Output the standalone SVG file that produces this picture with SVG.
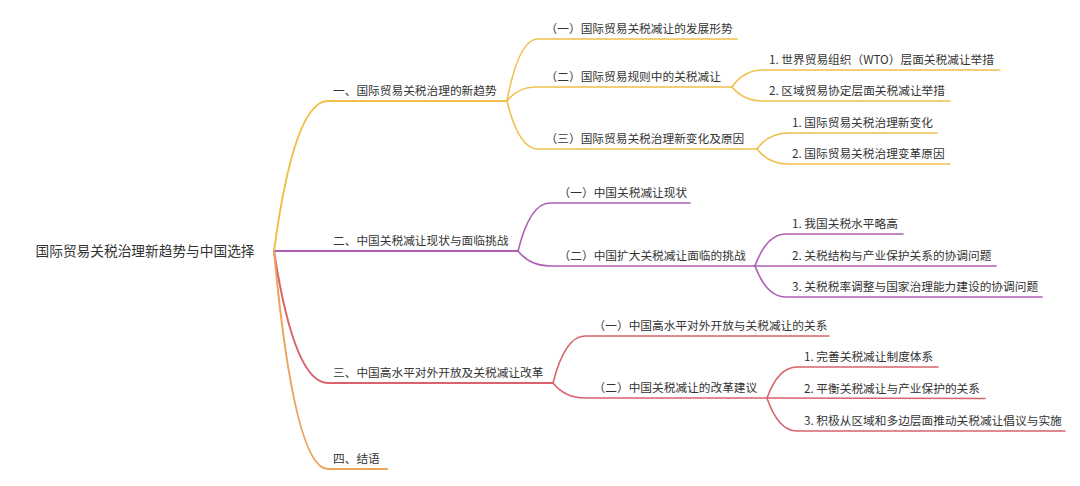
<svg xmlns="http://www.w3.org/2000/svg" width="1080" height="486" viewBox="0 0 1080 486">
<style>
text{font-family:"Noto Sans CJK SC","Liberation Sans",sans-serif;fill:#333}
.t0{font-size:13.7px}
.t{font-size:11.7px}
path{fill:none;stroke-linecap:round;stroke-linejoin:round}
.y{stroke:#F0BF4C}
.p{stroke:#AE5FB5}
.r{stroke:#D9626C}
.o{stroke:#EBA35E}
.w1{stroke-width:2}
.w2{stroke-width:1.6}
</style>
<rect width="1080" height="486" fill="#fff"/>
<g id="connectors">
<path class="y w1" d="M274,251 C282.1,191 298.3,101 328,101 L507,101"/>
<path class="p w1" d="M274,251 L518,251"/>
<path class="r w1" d="M274,251 C282.1,303.8 298.3,383 328,383 L553,383"/>
<path class="o w1" d="M274,251 C282.1,338.2 298.3,469 328,469 L387,469"/>
<path class="y w2" d="M507,101 C511.65,76.2 520.95,39 538,39 L737,39"/>
<path class="y w2" d="M507,101 C511.35,95.4 520.05,87 536,87 L732,87"/>
<path class="y w2" d="M507,101 C511.65,120.2 520.95,149 538,149 L757,149"/>
<path class="y w2" d="M732,87 C736.65,80.2 745.95,70 763,70 L1000,70"/>
<path class="y w2" d="M732,87 C736.65,92.6 745.95,101 763,101 L950,101"/>
<path class="y w2" d="M757,149 C761.65,142.6 770.95,133 788,133 L937,133"/>
<path class="y w2" d="M757,149 C761.65,155 770.95,164 788,164 L950,164"/>
<path class="p w2" d="M518,251 C522.8,231.8 532.4,203 550,203 L690,203"/>
<path class="p w2" d="M518,251 C522.8,257 532.4,266 550,266 L755,266"/>
<path class="p w2" d="M755,266 C759.65,253.2 768.95,234 786,234 L903,234"/>
<path class="p w2" d="M755,266 L996,266"/>
<path class="p w2" d="M755,266 C759.65,278.4 768.95,297 786,297 L1042,297"/>
<path class="r w2" d="M553,383 C557.8,364.2 567.4,336 585,336 L829,336"/>
<path class="r w2" d="M553,383 C557.8,389 567.4,398 585,398 L767,398"/>
<path class="r w2" d="M767,398 C771.5,385.6 780.5,367 797,367 L938,367"/>
<path class="r w2" d="M767,398 L985,398.5"/>
<path class="r w2" d="M767,398 C771.5,411.2 780.5,431 797,431 L1065,431"/>
</g>
<g id="root"><text class="t0" x="35.5" y="256">国际贸易关税治理新趋势与中国选择</text></g>
<g id="n1"><text class="t" x="333" y="95">一、国际贸易关税治理的新趋势</text></g>
<g id="n1-1"><text class="t" x="545.6" y="33">（一）国际贸易关税减让的发展形势</text></g>
<g id="n1-2"><text class="t" x="545.6" y="81">（二）国际贸易规则中的关税减让</text></g>
<g id="n1-2-1"><text class="t" x="769" y="64">1. 世界贸易组织（WTO）层面关税减让举措</text></g>
<g id="n1-2-2"><text class="t" x="769" y="95">2. 区域贸易协定层面关税减让举措</text></g>
<g id="n1-3"><text class="t" x="545.6" y="143">（三）国际贸易关税治理新变化及原因</text></g>
<g id="n1-3-1"><text class="t" x="792" y="127">1. 国际贸易关税治理新变化</text></g>
<g id="n1-3-2"><text class="t" x="792" y="158">2. 国际贸易关税治理变革原因</text></g>
<g id="n2"><text class="t" x="333" y="245">二、中国关税减让现状与面临挑战</text></g>
<g id="n2-1"><text class="t" x="558.6" y="197">（一）中国关税减让现状</text></g>
<g id="n2-2"><text class="t" x="558.6" y="260">（二）中国扩大关税减让面临的挑战</text></g>
<g id="n2-2-1"><text class="t" x="792" y="228">1. 我国关税水平略高</text></g>
<g id="n2-2-2"><text class="t" x="792" y="260">2. 关税结构与产业保护关系的协调问题</text></g>
<g id="n2-2-3"><text class="t" x="792" y="291">3. 关税税率调整与国家治理能力建设的协调问题</text></g>
<g id="n3"><text class="t" x="333" y="377">三、中国高水平对外开放及关税减让改革</text></g>
<g id="n3-1"><text class="t" x="593.6" y="330">（一）中国高水平对外开放与关税减让的关系</text></g>
<g id="n3-2"><text class="t" x="593.6" y="392">（二）中国关税减让的改革建议</text></g>
<g id="n3-2-1"><text class="t" x="804" y="361">1. 完善关税减让制度体系</text></g>
<g id="n3-2-2"><text class="t" x="804" y="393">2. 平衡关税减让与产业保护的关系</text></g>
<g id="n3-2-3"><text class="t" x="804" y="425">3. 积极从区域和多边层面推动关税减让倡议与实施</text></g>
<g id="n4"><text class="t" x="333" y="463">四、结语</text></g>
</svg>
